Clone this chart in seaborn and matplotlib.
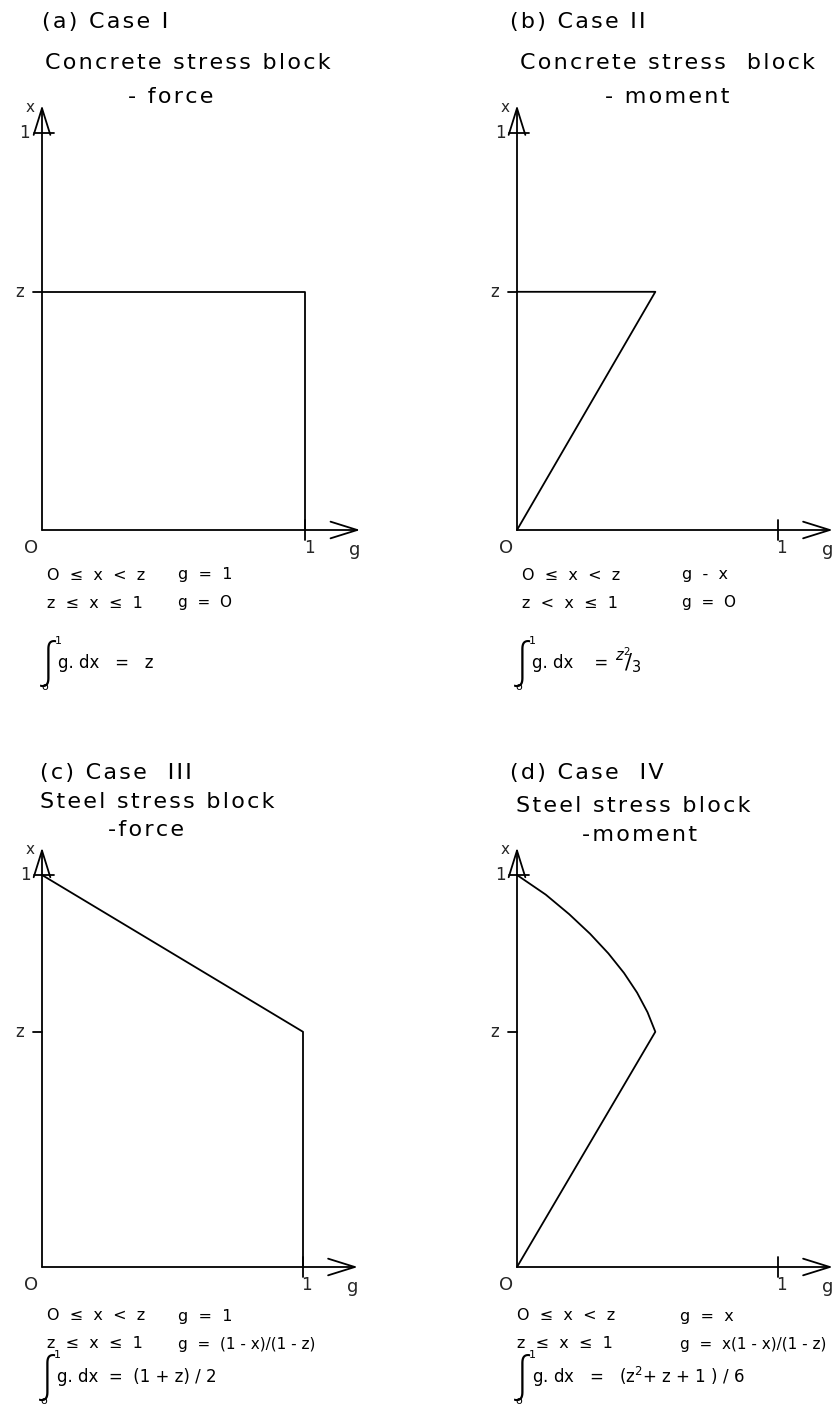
import numpy as np
import pandas as pd
import seaborn as sns
import matplotlib
matplotlib.use("Agg")
import matplotlib.pyplot as plt

sns.set_theme(style="white")
plt.rcParams["font.family"] = ["DejaVu Sans"]
plt.rcParams["mathtext.fontset"] = "dejavusans"

W, H = 837, 1411
DPI = 100

# ---- stress block outlines (g along the horizontal, x along the vertical) ----
z_level = 0.60          # depth of the neutral-axis level z
apex_g = 0.53           # g reached at x = z in the moment blocks

case1_g = [0.0, 1.0, 1.0]
case1_x = [z_level, z_level, 0.0]

case2_g = [0.0, apex_g, 0.0]
case2_x = [0.0, z_level, z_level]

case3_g = [0.0, 1.0, 1.0]
case3_x = [1.0, z_level, 0.0]

case4_g = [0.0, apex_g, 0.50, 0.46, 0.41, 0.35, 0.28, 0.20, 0.11, 0.0]
case4_x = [0.0, z_level, 0.65, 0.70, 0.75, 0.80, 0.85, 0.90, 0.95, 1.0]

titles = ["(a) Case I", "(b) Case II", "(c) Case  III", "(d) Case  IV"]
subtitles = ["Concrete stress block", "Concrete stress  block",
             "Steel stress block", "Steel stress block"]
subsubtitles = ["- force", "- moment", "-force", "-moment"]
cond1_left = ["O  ≤  x  <  z", "O  ≤  x  <  z", "O  ≤  x  <  z", "O  ≤  x  <  z"]
cond2_left = ["z  ≤  x  ≤  1", "z  <  x  ≤  1", "z  ≤  x  ≤  1", "z  ≤  x  ≤  1"]
cond1_right = ["g  =  1", "g  -  x", "g  =  1", "g  =  x"]
cond2_right = ["g  =  O", "g  =  O", "g  =  (1 - x)/(1 - z)", "g  =  x(1 - x)/(1 - z)"]
integrands = ["g. dx   =   z", "g. dx    =    ", "g. dx  =  (1 + z) / 2",
              "g. dx   =   (z$^2$+ z + 1 ) / 6"]
integral_results = ["", r"$^{z^2}\!\!/_{3}$", "", ""]

outlines = [(case1_g, case1_x), (case2_g, case2_x),
            (case3_g, case3_x), (case4_g, case4_x)]

# panel frames: origin pixel, pixels per unit of g and of x
frames = [
    dict(ox=42, oy=530, ux=263, uy=397),
    dict(ox=517, oy=530, ux=261, uy=397),
    dict(ox=42, oy=1267, ux=261, uy=392),
    dict(ox=517, oy=1267, ux=261, uy=392),
]

G_MIN, G_MAX = -0.2, 1.3
X_MIN, X_MAX = -0.25, 1.12
X_AXIS_LEN, G_AXIS_LEN = 1.07, 1.21

fig = plt.figure(figsize=(W / DPI, H / DPI), dpi=DPI)
fig.patch.set_facecolor("white")

LW = 1.3
col = "black"


def spaced(s):
    """Open up the lettering with hair spaces between characters."""
    return "\u200a".join(s)


def ftext(px, py, s, size=14, ha="left", va="center", **kw):
    fig.text(px / W, 1 - py / H, s, fontsize=size, ha=ha, va=va, color=col, **kw)


for i, fr in enumerate(frames):
    ox, oy, ux, uy = fr["ox"], fr["oy"], fr["ux"], fr["uy"]
    left = (ox + G_MIN * ux) / W
    bottom = 1 - (oy - X_MIN * uy) / H
    width = (G_MAX - G_MIN) * ux / W
    height = (X_MAX - X_MIN) * uy / H
    ax = fig.add_axes([left, bottom, width, height])

    # axes with open arrowheads
    arrow = dict(arrowstyle="->,head_length=1.6,head_width=0.5", lw=LW, color=col,
                 shrinkA=0, shrinkB=0)
    ax.annotate("", xy=(0, X_AXIS_LEN), xytext=(0, 0), arrowprops=arrow)
    ax.annotate("", xy=(G_AXIS_LEN, 0), xytext=(0, 0), arrowprops=arrow)

    # unit ticks and z tick
    ax.plot([-0.03, 0.045], [1, 1], color=col, lw=LW)
    ax.plot([1, 1], [-0.025, 0.025], color=col, lw=LW)
    ax.plot([-0.035, 0], [z_level, z_level], color=col, lw=LW)

    g_vals, x_vals = outlines[i]
    df = pd.DataFrame({"g": g_vals, "x": x_vals})
    sns.lineplot(data=df, x="g", y="x", sort=False, estimator=None,
                 color=col, lw=LW, ax=ax)
    ax.set_xlim(G_MIN, G_MAX)
    ax.set_ylim(X_MIN, X_MAX)
    ax.axis("off")

    # axis annotations
    ax.text(-0.045, X_AXIS_LEN - 0.005, "x", fontsize=11, ha="center", va="center")
    ax.text(-0.065, 1.0, "1", fontsize=12, ha="center", va="center")
    ax.text(-0.085, z_level, "z", fontsize=12, ha="center", va="center")
    ax.text(-0.04, -0.045, "O", fontsize=13, ha="center", va="center")
    ax.text(1.015, -0.045, "1", fontsize=12, ha="center", va="center")
    ax.text(G_AXIS_LEN - 0.02, -0.05, "g", fontsize=13, ha="center", va="center")

# headings and relations
title_pos = [(42, 22), (510, 22), (40, 773), (510, 773)]
sub_pos = [(45, 63), (520, 63), (40, 802), (516, 806)]
subsub_pos = [(128, 97), (605, 97), (108, 830), (582, 835)]
cond_left_x = [47, 522, 47, 517]
cond_right_x = [178, 682, 178, 680]
cond_y = [(575, 603, 663), (575, 603, 663), (1316, 1344, 1377), (1316, 1344, 1377)]
int_x = [40, 514, 39, 514]

for i in range(4):
    ftext(*title_pos[i], spaced(titles[i]), size=16)
    ftext(*sub_pos[i], spaced(subtitles[i]), size=16)
    ftext(*subsub_pos[i], spaced(subsubtitles[i]), size=16)
    y1, y2, y3 = cond_y[i]
    ftext(cond_left_x[i], y1, cond1_left[i], size=11.5)
    ftext(cond_left_x[i], y2, cond2_left[i], size=11.5)
    ftext(cond_right_x[i], y1, cond1_right[i], size=11.5)
    ftext(cond_right_x[i], y2, cond2_right[i], size=11)
    # integral sign with its limits, then the integrand and result
    ix = int_x[i]
    ftext(ix, y3 + 1, "∫", size=34, family=["Open Sans", "DejaVu Sans"],
          fontweight="light")
    ftext(ix + 15, y3 - 22, "1", size=8)
    ftext(ix + 1, y3 + 24, "o", size=8)
    ftext(ix + 18, y3, integrands[i], size=12)
    if integral_results[i]:
        ftext(ix + 101, y3 - 2, integral_results[i], size=15)

fig.savefig("out.png", dpi=DPI, facecolor="white")
